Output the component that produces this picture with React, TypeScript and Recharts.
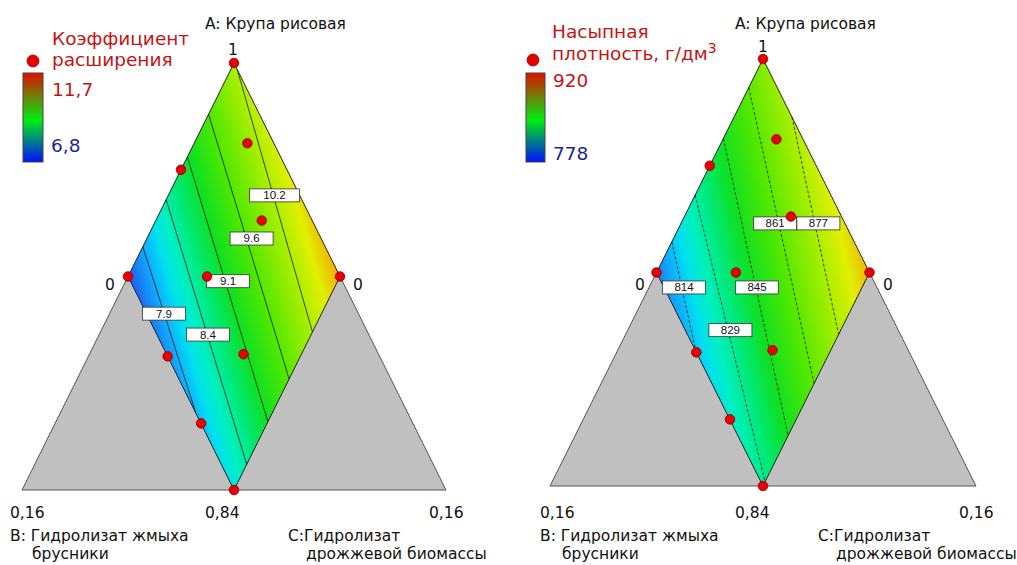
import { ComposedChart, Area, Line, Scatter, XAxis, YAxis } from "recharts";

const FONT = '"DejaVu Sans", Verdana, sans-serif';

// x: across the triangle (-1 .. 1), y: share of A from the bottom (0) to the apex (1)
const designPoints = [
  { x: 0, y: 1 }, { x: 0.063, y: 0.812 }, { x: -0.25, y: 0.75 }, { x: 0.131, y: 0.631 },
  { x: -0.5, y: 0.5 }, { x: 0.5, y: 0.5 }, { x: -0.127, y: 0.5 },
  { x: -0.313, y: 0.313 }, { x: 0.045, y: 0.318 }, { x: -0.155, y: 0.156 }, { x: 0, y: 0 },
];

const greyBase = [
  { x: -1, r: [0, 0] }, { x: -0.5, r: [0, 0.5] }, { x: 0.5, r: [0, 0.5] }, { x: 1, r: [0, 0] },
];
const greyEdge = [{ x: -0.5, y: 0.5 }, { x: -1, y: 0 }, { x: 1, y: 0 }, { x: 0.5, y: 0.5 }];
const region = [{ x: -0.5, r: [0.5, 0.5] }, { x: 0, r: [0, 1] }, { x: 0.5, r: [0.5, 0.5] }];
const regionEdge = [
  { x: -0.5, y: 0.5 }, { x: 0, y: 1 }, { x: 0.5, y: 0.5 }, { x: 0, y: 0 }, { x: -0.5, y: 0.5 },
];

// expansion coefficient
const expansionLevels = ["7.9", "8.4", "9.1", "9.6", "10.2"];
const expansionLines = [
  [[-0.43, 0.57], [-0.18, 0.18]],
  [[-0.32, 0.68], [0.06, 0.06]],
  [[-0.22, 0.78], [0.16, 0.16]],
  [[-0.12, 0.88], [0.26, 0.26]],
  [[0.015, 0.985], [0.37, 0.37]],
];
const expansionLabelAt = [[-0.33, 0.413], [-0.123, 0.364], [-0.028, 0.489], [0.083, 0.589], [0.191, 0.69]];

// bulk density
const densityLevels = ["814", "829", "845", "861", "877"];
const densityLines = [
  [[-0.428, 0.572], [-0.315, 0.315]],
  [[-0.319, 0.681], [0.01, 0.01]],
  [[-0.186, 0.814], [0.118, 0.118]],
  [[-0.067, 0.933], [0.24, 0.24]],
  [[0.136, 0.864], [0.355, 0.355]],
];
const densityLabelAt = [[-0.371, 0.465], [-0.153, 0.365], [-0.028, 0.465], [0.057, 0.615], [0.26, 0.615]];

// colour map over the legend range (0 = min, 1 = max)
const colourMap: [number, string][] = [
  [0, "#0020ff"], [0.1, "#0040ff"], [0.17, "#1a70f0"], [0.224, "#10a8ff"], [0.28, "#00e0f0"],
  [0.327, "#00f0c0"], [0.4, "#00e870"], [0.469, "#10e020"], [0.571, "#50e800"],
  [0.694, "#a8ee00"], [0.77, "#e0f000"], [0.83, "#f0b800"], [0.9, "#f08000"], [1, "#e04000"],
];

const panels = [
  {
    id: "exp", left: 0, width: 508, cx: 233,
    margin: { top: 63, right: 62, bottom: 75, left: 22 },
    levels: expansionLevels, lines: expansionLines, labelAt: expansionLabelAt,
    dashed: false, grad: { from: 0.031, to: 0.962, y1: 0.79, y2: 0.21 },
  },
  {
    id: "den", left: 508, width: 509, cx: 763,
    margin: { top: 59, right: 41, bottom: 79, left: 42 },
    levels: densityLevels, lines: densityLines, labelAt: densityLabelAt,
    dashed: true, grad: { from: 0.121, to: 0.897, y1: 0.72, y2: 0.28 },
  },
];

const Dot = (p: any) => (
  <circle cx={p.cx} cy={p.cy} r={4.8} fill="#e80000" stroke="#8a0000" strokeWidth={0.8} />
);

const LevelBox = (p: any) => {
  const t = p.payload.text;
  const w = t.length * 7 + 22;
  return (
    <g>
      <rect x={p.cx - w / 2} y={p.cy - 6.5} width={w} height={13} fill="#fff" stroke="#333" strokeWidth={0.8} />
      <text x={p.cx} y={p.cy + 4} textAnchor="middle" fontSize={11.5} fontFamily='"Liberation Sans", Arial' fill="#111">
        {t}
      </text>
    </g>
  );
};

function Panel({ cfg }: { cfg: any }) {
  const labels = cfg.levels.map((t: string, i: number) => ({ x: cfg.labelAt[i][0], y: cfg.labelAt[i][1], text: t }));
  return (
    <div style={{ position: "absolute", left: cfg.left, top: 0 }}>
      <ComposedChart width={cfg.width} height={565} margin={cfg.margin}>
        <XAxis type="number" dataKey="x" domain={[-1, 1]} hide />
        <YAxis type="number" dataKey="y" domain={[0, 1]} hide />
        <Area data={greyBase} dataKey="r" type="linear" fill="#c0c0c0" fillOpacity={1} stroke="none" isAnimationActive={false} />
        <Area data={region} dataKey="r" type="linear" fill={`url(#fill-${cfg.id})`} fillOpacity={1} stroke="none" isAnimationActive={false} />
        <Line data={greyEdge} dataKey="y" stroke="#555" strokeWidth={1} dot={false} isAnimationActive={false} />
        {cfg.lines.map((seg: number[][], i: number) => (
          <Line
            key={i}
            data={seg.map((p) => ({ x: p[0], y: p[1] }))}
            dataKey="y"
            stroke="#1a1a1a"
            strokeWidth={0.8}
            strokeDasharray={cfg.dashed ? "3 2" : undefined}
            dot={false}
            isAnimationActive={false}
          />
        ))}
        <Line data={regionEdge} dataKey="y" stroke="#222" strokeWidth={1} dot={false} isAnimationActive={false} />
        <Scatter data={labels} shape={LevelBox} isAnimationActive={false} />
        <Scatter data={designPoints} shape={Dot} isAnimationActive={false} />
      </ComposedChart>
    </div>
  );
}

const txt = { fontFamily: FONT, fontSize: 15.5, fill: "#111" };
const title = { fontFamily: FONT, fontSize: 18.5, fill: "#c41414" };

function PanelText({ cx, top }: { cx: number; top: number }) {
  return (
    <g {...txt}>
      <text x={cx - 28} y={29}>A: Крупа рисовая</text>
      <text x={cx} y={top} textAnchor="middle">1</text>
      <text x={cx - 123} y={290} textAnchor="middle">0</text>
      <text x={cx + 125} y={290} textAnchor="middle">0</text>
      <text x={cx - 223} y={518}>0,16</text>
      <text x={cx - 28} y={518}>0,84</text>
      <text x={cx + 196} y={518}>0,16</text>
      <text x={cx - 223} y={541}>B: Гидролизат жмыха</text>
      <text x={cx - 201} y={559}>брусники</text>
      <text x={cx + 55} y={541}>C:Гидролизат</text>
      <text x={cx + 73} y={559}>дрожжевой биомассы</text>
    </g>
  );
}

export default function App() {
  return (
    <div style={{ position: "absolute", left: 0, top: 0, width: 1017, height: 565, background: "#fff" }}>
      <svg width={1} height={1} style={{ position: "absolute" }}>
        <defs>
          {panels.map((p) => (
            <linearGradient key={p.id} id={`fill-${p.id}`} x1={0} y1={p.grad.y1} x2={1} y2={p.grad.y2}>
              {colourMap.map(([f, c], i) => (
                <stop
                  key={i}
                  offset={Math.min(1, Math.max(0, (f - p.grad.from) / (p.grad.to - p.grad.from)))}
                  stopColor={c}
                />
              ))}
            </linearGradient>
          ))}
          <linearGradient id="bar" x1={0} y1={0} x2={0} y2={1}>
            <stop offset={0} stopColor="#e01000" />
            <stop offset={0.53} stopColor="#00ee10" />
            <stop offset={1} stopColor="#0010ff" />
          </linearGradient>
        </defs>
      </svg>
      {panels.map((p) => (
        <Panel key={p.id} cfg={p} />
      ))}
      <svg width={1017} height={565} style={{ position: "absolute", left: 0, top: 0, pointerEvents: "none" }}>
        <PanelText cx={233} top={55} />
        <PanelText cx={763} top={52} />

        <text x={52} y={45} {...title}>Коэффициент</text>
        <text x={52} y={66} {...title}>расширения</text>
        <circle cx={33} cy={61} r={6} fill="#e80000" stroke="#8a0000" strokeWidth={0.8} />
        <rect x={23} y={73} width={20} height={89} fill="url(#bar)" stroke="#444" strokeWidth={1} />
        <text x={52} y={96} {...title}>11,7</text>
        <text x={51} y={152} {...title} fill="#1e1e9a">6,8</text>

        <text x={552} y={38} {...title}>Насыпная</text>
        <text x={552} y={60} {...title}>
          плотность, г/дм<tspan dy={-7} fontSize={14}>3</tspan>
        </text>
        <circle cx={533} cy={60} r={6} fill="#e80000" stroke="#8a0000" strokeWidth={0.8} />
        <rect x={526} y={73} width={19} height={89} fill="url(#bar)" stroke="#444" strokeWidth={1} />
        <text x={553} y={87} {...title}>920</text>
        <text x={553} y={160} {...title} fill="#1e1e9a">778</text>
      </svg>
    </div>
  );
}
